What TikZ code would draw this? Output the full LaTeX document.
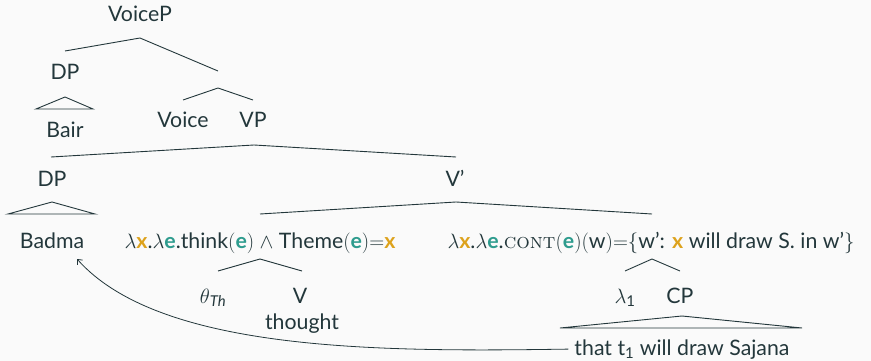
\documentclass[tikz,border=0pt]{standalone}
\usepackage{fontspec}
\setmainfont{Lato}
\usetikzlibrary{arrows.meta}
\definecolor{fg}{HTML}{23373B}
\definecolor{bg}{HTML}{FAFAFA}
\definecolor{tealc}{HTML}{2E9C8E}
\definecolor{goldc}{HTML}{DDA21C}
\newcommand{\vX}{\textcolor{goldc}{\textbf{x}}}
\newcommand{\vE}{\textcolor{tealc}{\textbf{e}}}
\newcommand{\contsc}{{\fontfamily{lmr}\selectfont\textsc{cont}}}
\begin{document}
\begin{tikzpicture}[x=1pt,y=-1pt,
  lbl/.style={inner sep=0pt,anchor=base,text=fg,font=\fontsize{21.3}{24}\selectfont},
  br/.style={draw=fg,line width=0.9pt}]
\fill[bg] (0,0) rectangle (871,361);
\useasboundingbox (0,0) rectangle (871,361);
\color{fg}
% top
\node[lbl] (voicep) at (140,22) {VoiceP};
\node[lbl] (dp1) at (65,80) {DP};
\node[lbl] (bair) at (65,137) {Bair};
\node[lbl] (voice) at (183,128) {Voice};
\node[lbl] (vp) at (253,128) {VP};
\node[lbl] (dp2) at (52,186) {DP};
\node[lbl] (badma) at (52,248) {Badma};
\node[lbl] (vbar) at (455,186) {V'};
\node[lbl] (think) at (260,248) {$\lambda$\vX.$\lambda$\vE.think$($\vE$)\ \wedge\ $Theme$($\vE$){=}$\vX};
\node[lbl] (cont) at (651,248) {$\lambda$\vX.$\lambda$\vE.\contsc$($\vE$)($w$){=}\{$w': \vX{} will draw S. in w'$\}$};
\node[lbl] (theta) at (213,303) {$\theta$\textsubscript{\itshape Th}};
\node[lbl] (v) at (300,303) {V};
\node[lbl] (thought) at (302,329) {thought};
\node[lbl] (lam) at (625,303) {$\lambda$\textsubscript{1}};
\node[lbl] (cp) at (680,303) {CP};
\node[lbl] (that) at (682,355) {that t\textsubscript{1} will draw Sajana};
% branches
\coordinate (a1) at (140,38);
\draw[br] (65,51) -- (a1) -- (218,71);
\coordinate (a2) at (218,88);
\draw[br] (183,100) -- (a2) -- (253,100);
\draw[br] (36,109) -- (65,97) -- (93,109) -- cycle;
\coordinate (a3) at (254,145);
\draw[br] (51,157) -- (a3) -- (456,157);
\draw[br] (8,214) -- (52,202) -- (95,214) -- cycle;
\coordinate (a4) at (456,202);
\draw[br] (260,214) -- (a4) -- (652,214);
\coordinate (a5) at (260,259);
\draw[br] (218,271) -- (a5) -- (302,271);
\coordinate (a6) at (652,259);
\draw[br] (625,271) -- (a6) -- (680,271);
\draw[br] (560,328) -- (682,316) -- (802,328) -- cycle;
% movement arrow
\coordinate (tip) at (77,259);
\draw[fg,line width=0.8pt,-{Straight Barb[length=4pt,width=7pt]}] ([xshift=-6pt]that.west) .. controls (380,352) and (160,352) .. (tip);
\end{tikzpicture}
\end{document}
